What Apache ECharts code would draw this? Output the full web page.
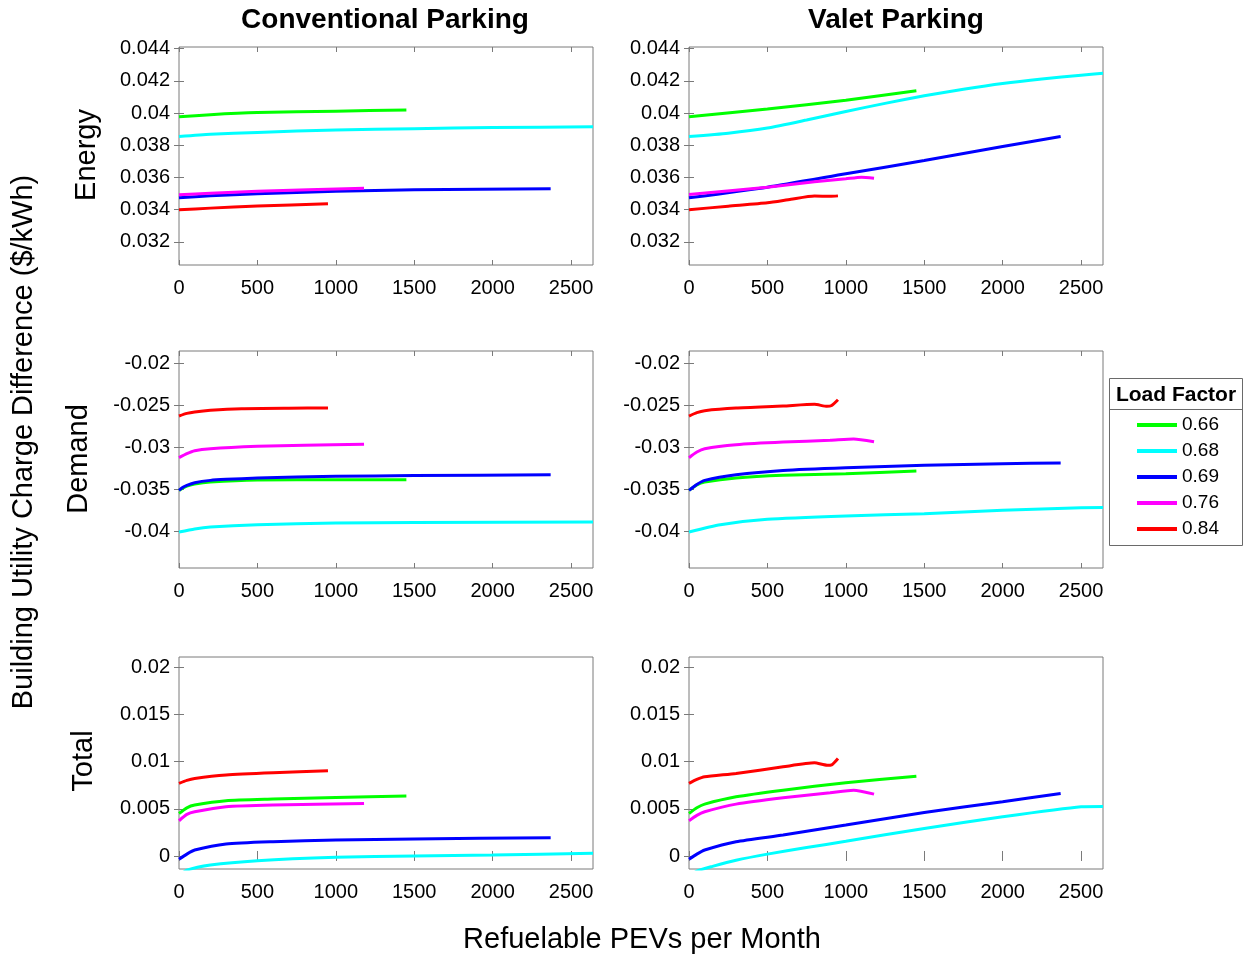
<!DOCTYPE html>
<html>
<head>
<meta charset="utf-8">
<script src="https://cdn.jsdelivr.net/npm/echarts@6/dist/echarts.min.js"></script>
<style>html,body{margin:0;padding:0;background:#fff}#c{width:1248px;height:960px}</style>
</head>
<body>
<div id="c"></div>
<script>
// ---------- data ----------
const seriesNames = ['0.66', '0.68', '0.69', '0.76', '0.84'];
const seriesColors = ['#00ff00', '#00ffff', '#0000ff', '#ff00ff', '#ff0000'];
const colTitles = ['Conventional Parking', 'Valet Parking'];
const rowTitles = ['Energy', 'Demand', 'Total'];
const xTicks = [0, 500, 1000, 1500, 2000, 2500];
const energyTicks = [0.032, 0.034, 0.036, 0.038, 0.04, 0.042, 0.044];
const demandTicks = [-0.04, -0.035, -0.03, -0.025, -0.02];
const totalTicks = [0, 0.005, 0.01, 0.015, 0.02];

// Energy, Conventional
const ecGreen = [[0,0.03977],[200,0.0399],[500,0.04003],[1000,0.04012],[1450,0.04019]];
const ecCyan = [[0,0.03854],[200,0.03868],[500,0.0388],[1000,0.03895],[1500,0.03903],[2000,0.0391],[2640,0.03915]];
const ecBlue = [[0,0.03474],[200,0.03487],[500,0.03499],[1000,0.03515],[1500,0.03524],[2370,0.0353]];
const ecMagenta = [[0,0.03493],[200,0.03503],[500,0.03515],[1180,0.03534]];
const ecRed = [[0,0.034],[200,0.0341],[500,0.03423],[950,0.03437]];
// Energy, Valet
const evGreen = [[0,0.03977],[500,0.04025],[1000,0.0408],[1450,0.04138]];
const evCyan = [[0,0.03854],[250,0.03875],[500,0.03907],[750,0.03957],[1000,0.0401],[1250,0.0406],[1500,0.04107],[1750,0.04148],[2000,0.04184],[2250,0.04212],[2500,0.04235],[2640,0.04247]];
const evBlue = [[0,0.03474],[500,0.0354],[1000,0.03623],[1500,0.03705],[2000,0.03792],[2370,0.03854]];
const evMagenta = [[0,0.03495],[500,0.0354],[800,0.03573],[1000,0.03592],[1100,0.03602],[1180,0.03596]];
const evRed = [[0,0.034],[250,0.03422],[500,0.03443],[650,0.03465],[800,0.03485],[900,0.03483],[950,0.03486]];
// Demand, Conventional
const dcGreen = [[0,-0.03516],[50,-0.03465],[100,-0.0344],[200,-0.03417],[500,-0.03393],[1000,-0.0339],[1450,-0.03389]];
const dcCyan = [[0,-0.04012],[100,-0.03975],[200,-0.03952],[500,-0.03925],[1000,-0.03905],[1500,-0.03898],[2640,-0.03893]];
const dcBlue = [[0,-0.03516],[25,-0.0348],[50,-0.03456],[100,-0.03425],[200,-0.03397],[300,-0.03385],[500,-0.03369],[1000,-0.03349],[1500,-0.0334],[2370,-0.0333]];
const dcMagenta = [[0,-0.03127],[50,-0.03079],[100,-0.03044],[200,-0.0302],[500,-0.02992],[800,-0.02978],[1180,-0.02968]];
const dcRed = [[0,-0.02631],[50,-0.026],[100,-0.02583],[200,-0.02563],[400,-0.02544],[700,-0.02538],[950,-0.02536]];
// Demand, Valet
const dvGreen = [[0,-0.03516],[50,-0.0345],[100,-0.03417],[300,-0.03369],[600,-0.03337],[1000,-0.03317],[1450,-0.03286]];
const dvCyan = [[0,-0.04012],[200,-0.03925],[500,-0.03861],[1000,-0.03821],[1500,-0.03794],[2000,-0.03754],[2500,-0.03722],[2640,-0.0372]];
const dvBlue = [[0,-0.03516],[50,-0.03445],[100,-0.03397],[300,-0.0333],[600,-0.03278],[1000,-0.03246],[1500,-0.03218],[2000,-0.03198],[2370,-0.0319]];
const dvMagenta = [[0,-0.03127],[50,-0.0306],[100,-0.0302],[300,-0.02972],[600,-0.0294],[900,-0.0292],[1050,-0.02905],[1180,-0.02937]];
const dvRed = [[0,-0.02631],[50,-0.0259],[100,-0.02567],[300,-0.02536],[600,-0.02512],[800,-0.02492],[880,-0.02516],[910,-0.02505],[950,-0.02437]];
// Total, Conventional
const tcGreen = [[0,0.0045],[50,0.0051],[100,0.00539],[300,0.00585],[600,0.00602],[1000,0.0062],[1450,0.00634]];
const tcCyan = [[0,-0.0021],[50,-0.0015],[200,-0.00095],[500,-0.00049],[1000,-0.00014],[1500,0],[2000,0.0001],[2640,0.00028]];
const tcBlue = [[0,-0.00035],[50,0.0002],[100,0.00063],[300,0.00127],[600,0.00151],[1000,0.00169],[1500,0.0018],[2370,0.00194]];
const tcMagenta = [[0,0.00373],[50,0.0044],[100,0.00468],[300,0.00521],[600,0.00539],[1180,0.00556]];
const tcRed = [[0,0.00768],[50,0.008],[100,0.0082],[300,0.00856],[600,0.0088],[950,0.00901]];
// Total, Valet
const tvGreen = [[0,0.0045],[50,0.0051],[100,0.00549],[300,0.00627],[600,0.00697],[1000,0.00775],[1450,0.00845]];
const tvCyan = [[0,-0.0022],[50,-0.0016],[150,-0.0011],[300,-0.00045],[500,0.0002],[750,0.0009],[1000,0.00155],[1500,0.00292],[2000,0.00415],[2500,0.00521],[2640,0.00525]];
const tvBlue = [[0,-0.00035],[50,0.0002],[100,0.00063],[300,0.00151],[600,0.00222],[1000,0.00327],[1500,0.00461],[2000,0.00574],[2370,0.00662]];
const tvMagenta = [[0,0.00373],[50,0.0043],[100,0.00468],[300,0.00549],[600,0.00616],[900,0.00669],[1050,0.00697],[1180,0.00655]];
const tvRed = [[0,0.00768],[50,0.0081],[100,0.00838],[300,0.00873],[600,0.00944],[800,0.00986],[880,0.00961],[910,0.00965],[950,0.01032]];

// ---------- layout ----------
const FONT = "'Liberation Sans', Arial, Helvetica, sans-serif";
const colLeft = [179, 689];
const plotW = 414;
const rows = [
  { top: 47, height: 218, min: 0.03057, max: 0.0441, ticks: energyTicks, data: [[ecGreen, ecCyan, ecBlue, ecMagenta, ecRed], [evGreen, evCyan, evBlue, evMagenta, evRed]] },
  { top: 351, height: 217, min: -0.0444, max: -0.01857, ticks: demandTicks, data: [[dcGreen, dcCyan, dcBlue, dcMagenta, dcRed], [dvGreen, dvCyan, dvBlue, dvMagenta, dvRed]] },
  { top: 657, height: 212, min: -0.001376, max: 0.02106, ticks: totalTicks, data: [[tcGreen, tcCyan, tcBlue, tcMagenta, tcRed], [tvGreen, tvCyan, tvBlue, tvMagenta, tvRed]] }
];
const XMAX = 2640;

const grid = [], xAxis = [], yAxis = [], series = [];
const boxColor = '#7a7a7a';
const plainNum = v => String(v);
let gi = 0;
rows.forEach((r, ri) => {
  [0, 1].forEach(ci => {
    grid.push({ left: colLeft[ci], top: r.top, width: plotW, height: r.height, show: true, borderColor: boxColor, borderWidth: 1, backgroundColor: '#fff', containLabel: false });
    xAxis.push({ type: 'value', gridIndex: gi, min: 0, max: XMAX, position: 'bottom',
      axisLine: { show: false }, splitLine: { show: false },
      axisTick: { show: true, inside: true, length: 5, customValues: xTicks, lineStyle: { color: boxColor } },
      axisLabel: { show: true, customValues: xTicks, formatter: plainNum, margin: 13, color: '#000', fontSize: 20, fontFamily: FONT } });
    xAxis.push({ type: 'value', gridIndex: gi, min: 0, max: XMAX, position: 'top',
      axisLine: { show: false }, splitLine: { show: false },
      axisTick: { show: true, inside: true, length: 5, customValues: xTicks, lineStyle: { color: boxColor } },
      axisLabel: { show: false } });
    yAxis.push({ type: 'value', gridIndex: gi, min: r.min, max: r.max, position: 'left',
      axisLine: { show: false }, splitLine: { show: false },
      axisTick: { show: true, inside: true, length: 5, customValues: r.ticks, lineStyle: { color: boxColor } },
      axisLabel: { show: true, customValues: r.ticks, formatter: plainNum, margin: 9, color: '#000', fontSize: 20, fontFamily: FONT } });
    yAxis.push({ type: 'value', gridIndex: gi, min: r.min, max: r.max, position: 'right',
      axisLine: { show: false }, splitLine: { show: false },
      axisTick: { show: true, inside: true, length: 5, customValues: r.ticks, lineStyle: { color: boxColor } },
      axisLabel: { show: false } });
    r.data[ci].forEach((d, si) => {
      series.push({ type: 'line', name: seriesNames[si], xAxisIndex: gi * 2, yAxisIndex: gi * 2, data: d,
        showSymbol: false, symbol: 'none', smooth: 0.2, clip: true,
        lineStyle: { color: seriesColors[si], width: 3 }, itemStyle: { color: seriesColors[si] } });
    });
    gi++;
  });
});

const graphic = [
  { type: 'text', x: 385, y: 20, style: { text: colTitles[0], font: "bold 28px " + FONT, fill: '#000', textAlign: 'center', textVerticalAlign: 'middle' } },
  { type: 'text', x: 896, y: 20, style: { text: colTitles[1], font: "bold 28px " + FONT, fill: '#000', textAlign: 'center', textVerticalAlign: 'middle' } },
  { type: 'text', x: 87, y: 155, rotation: Math.PI / 2, style: { text: rowTitles[0], font: "29px " + FONT, fill: '#000', textAlign: 'center', textVerticalAlign: 'middle' } },
  { type: 'text', x: 79, y: 459, rotation: Math.PI / 2, style: { text: rowTitles[1], font: "29px " + FONT, fill: '#000', textAlign: 'center', textVerticalAlign: 'middle' } },
  { type: 'text', x: 84, y: 761, rotation: Math.PI / 2, style: { text: rowTitles[2], font: "29px " + FONT, fill: '#000', textAlign: 'center', textVerticalAlign: 'middle' } },
  { type: 'text', x: 24, y: 442, rotation: Math.PI / 2, style: { text: 'Building Utility Charge Difference ($/kWh)', font: "29px " + FONT, fill: '#000', textAlign: 'center', textVerticalAlign: 'middle' } },
  { type: 'text', x: 642, y: 940, style: { text: 'Refuelable PEVs per Month', font: "29px " + FONT, fill: '#000', textAlign: 'center', textVerticalAlign: 'middle' } },
  { type: 'rect', shape: { x: 1109.5, y: 378.5, width: 133, height: 167 }, style: { fill: '#fff', stroke: '#6a6a6a', lineWidth: 1 }, z: 0 },
  { type: 'line', shape: { x1: 1109.5, y1: 409.5, x2: 1242.5, y2: 409.5 }, style: { stroke: '#6a6a6a', lineWidth: 1 }, z: 1 },
  { type: 'text', x: 1176, y: 395, style: { text: 'Load Factor', font: "bold 21px " + FONT, fill: '#000', textAlign: 'center', textVerticalAlign: 'middle' }, z: 2 }
];

const option = {
  animation: false,
  backgroundColor: '#fff',
  grid, xAxis, yAxis, series, graphic,
  legend: {
    data: seriesNames, orient: 'vertical', left: 1137, top: 415, padding: 0,
    icon: 'rect', itemWidth: 40, itemHeight: 4, itemGap: 6, selectedMode: false, z: 10,
    textStyle: { fontSize: 19, fontFamily: FONT, color: '#000', lineHeight: 20 }
  }
};
const chart = echarts.init(document.getElementById('c'), null, { renderer: 'canvas' });
chart.setOption(option);
</script>
</body>
</html>
